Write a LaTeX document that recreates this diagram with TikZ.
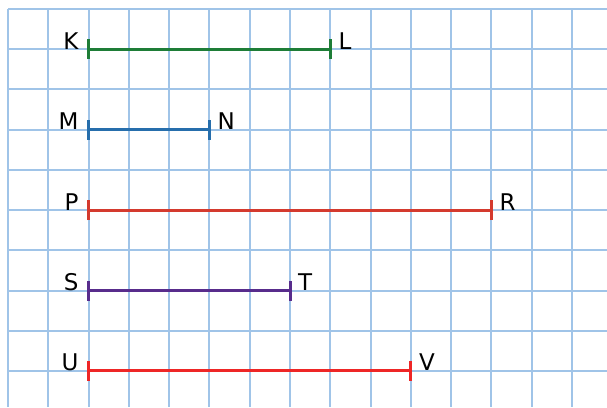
\documentclass[tikz,border=0pt]{standalone}
\usepackage{fontspec}
\setmainfont{DejaVu Sans}
\definecolor{gridc}{RGB}{160,196,232}
\definecolor{cK}{RGB}{30,125,55}
\definecolor{cM}{RGB}{38,110,172}
\definecolor{cP}{RGB}{212,58,46}
\definecolor{cS}{RGB}{88,44,140}
\definecolor{cU}{RGB}{238,38,38}
\begin{document}
\begin{tikzpicture}[x=1pt,y=-1pt,
  gridline/.style={gridc,line width=2pt},
  seg/.style={line width=3pt},
  tick/.style={line width=3pt},
  lbl/.style={inner sep=0pt,font=\fontsize{23}{27}\selectfont}]
\useasboundingbox (0,0) rectangle (607,407);
\fill[white] (0,0) rectangle (607,407);
% grid
\foreach \i in {0,...,14} \draw[gridline] (8+40.29*\i,9) -- (8+40.29*\i,407);
\foreach \j in {0,...,9} \draw[gridline] (8,9+40.22*\j) -- (607,9+40.22*\j);
% segments
\foreach \n/\a/\b/\r/\c/\la/\lb in {k/2/8/1/cK/K/L, m/2/5/3/cM/M/N, p/2/12/5/cP/P/R, s/2/7/7/cS/S/T, u/2/10/9/cU/U/V}{
  \coordinate (\n1) at (8+40.29*\a,9+40.22*\r);
  \coordinate (\n2) at (8+40.29*\b,9+40.22*\r);
  \draw[seg,\c] (\n1) -- (\n2);
  \draw[tick,\c] ([yshift=-10pt]\n1) -- ([yshift=10pt]\n1);
  \draw[tick,\c] ([yshift=-10pt]\n2) -- ([yshift=10pt]\n2);
  \node[lbl,anchor=base east] (\n L) at ([xshift=-10pt]\n1) {\la};
  \node[lbl,anchor=base west] (\n R) at ([xshift=8pt]\n2) {\lb};
}
\end{tikzpicture}
\end{document}
